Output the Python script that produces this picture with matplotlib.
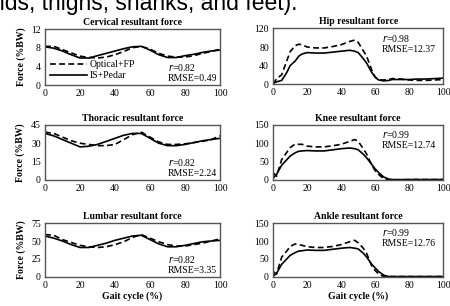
import matplotlib
matplotlib.use("Agg")
import matplotlib.pyplot as plt

plt.rcParams['font.family'] = ['Liberation Serif', 'DejaVu Serif']

# gait cycle (%)
gait = [0, 5, 10, 15, 20, 25, 30, 35, 40, 45, 50, 55, 60, 65, 70, 75, 80, 85, 90, 95, 100]
gait_f = [0, 2, 5, 8, 10, 13, 15, 17, 20, 25, 30, 35, 40, 45, 48, 50, 53, 55, 58, 60, 62, 65, 68, 70, 75, 80, 85, 90, 95, 100]

cerv_is = [8.2, 7.9, 7.3, 6.5, 5.8, 5.8, 6.3, 6.8, 7.3, 7.8, 8.2, 8.3, 7.5, 6.5, 5.9, 5.9, 6.3, 6.6, 7.0, 7.3, 7.5]
cerv_op = [8.3, 8.3, 7.6, 6.9, 6.2, 5.9, 5.8, 6.0, 6.5, 7.2, 8.0, 8.3, 7.7, 6.8, 6.2, 6.0, 6.0, 6.3, 6.8, 7.2, 7.7]
thor_is = [38, 36, 33, 30, 27, 27.5, 29, 31.5, 34, 36.5, 38, 38, 34, 30, 28, 28, 29, 30.5, 32, 33, 34]
thor_op = [39, 38, 35, 32, 30, 29, 28, 28, 29, 33, 37, 39, 35, 31, 29, 29, 29.5, 30.5, 31.5, 33, 36]
lumb_is = [57, 54, 50, 45, 41, 41, 44, 47, 51, 54, 57, 58, 52, 46, 42, 42, 44, 46.5, 49, 50, 51]
lumb_op = [59, 58, 52, 48, 44, 42, 41, 42, 45, 49, 55, 59, 54, 49, 45, 43, 43, 45, 47, 50, 53]

hip_is = [2, 5, 8, 25, 40, 50, 60, 65, 68, 67, 67, 69, 71, 73, 71, 68, 55, 45, 25, 15, 9, 7, 8, 10, 10, 10, 11, 11, 12, 13]
hip_op = [0, 12, 20, 50, 70, 83, 86, 85, 80, 78, 78, 81, 85, 92, 95, 90, 72, 60, 30, 15, 9, 9, 10, 12, 11, 9, 8, 8, 9, 10]
knee_is = [5, 15, 40, 55, 65, 74, 78, 79, 80, 79, 79, 82, 85, 87, 85, 82, 70, 60, 42, 30, 20, 8, 2, 1, 1, 1, 1, 1, 1, 1]
knee_op = [20, 10, 55, 75, 88, 98, 97, 97, 92, 90, 90, 93, 97, 105, 110, 105, 85, 70, 40, 25, 15, 3, 1, 0, 0, 1, 1, 1, 1, 1]
ankl_is = [2, 10, 35, 50, 60, 68, 72, 73, 75, 74, 74, 77, 80, 82, 80, 78, 66, 55, 35, 25, 15, 5, 1, 1, 1, 1, 1, 1, 1, 1]
ankl_op = [15, 8, 55, 72, 85, 92, 90, 88, 84, 82, 82, 85, 90, 98, 102, 95, 80, 65, 30, 18, 8, 1, 1, 1, 1, 1, 1, 1, 1, 1]

fig = plt.figure(figsize=(4.5, 3.06), dpi=100)

# fragment of caption text above the figure (cut off in the original too)
fig.text(0.66, 0.967, "nds, thighs, shanks, and feet).", family=['Liberation Sans', 'DejaVu Sans'],
         fontsize=16.5, va='baseline', ha='right')


def panel(rect, x, is_vals, op_vals, title, ymax, yticks, r, rmse, stat_top, ylab, xlab, legend=False):
    ax = fig.add_axes(rect)
    ax.plot(x, op_vals, color='black', lw=1.2, ls=(0, (3.5, 2)), label='Optical+FP')
    ax.plot(x, is_vals, color='black', lw=1.2, label='IS+Pedar')
    ax.set_xlim(0, 100)
    ax.set_ylim(0, ymax)
    ax.set_xticks([0, 20, 40, 60, 80, 100])
    ax.set_yticks(yticks)
    ax.tick_params(length=0, labelsize=7, pad=3)
    for s in ax.spines.values():
        s.set_color('#555555')
        s.set_linewidth(1.0)
    ax.set_title(title, fontsize=7, fontweight='bold', pad=3)
    if ylab:
        ax.set_ylabel('Force (%BW)', fontsize=7, fontweight='bold', labelpad=4)
    if xlab:
        ax.set_xlabel('Gait cycle (%)', fontsize=7, fontweight='bold', labelpad=1)
    if stat_top:
        ax.text(0.64, 0.92, r'$r$=' + r, transform=ax.transAxes, fontsize=7, va='top')
        ax.text(0.64, 0.7, 'RMSE=' + rmse, transform=ax.transAxes, fontsize=7, va='top')
    else:
        ax.text(0.7, 0.42, r'$r$=' + r, transform=ax.transAxes, fontsize=7, va='top')
        ax.text(0.7, 0.2, 'RMSE=' + rmse, transform=ax.transAxes, fontsize=7, va='top')
    if legend:
        ax.legend(loc='lower left', fontsize=7, frameon=False, handlelength=3.8,
                  borderaxespad=0.1, labelspacing=0.2, handletextpad=0.3)
    return ax


L, LW = 0.1, 0.389
R, RW = 0.607, 0.378
panel([L, 0.722, LW, 0.183], gait, cerv_is, cerv_op, 'Cervical resultant force', 12, [0, 4, 8, 12],
      '0.82', '0.49', False, True, False, legend=True)
panel([R, 0.725, RW, 0.182], gait_f, hip_is, hip_op, 'Hip resultant force', 120, [0, 40, 80, 120],
      '0.98', '12.37', True, False, False)
panel([L, 0.412, LW, 0.18], gait, thor_is, thor_op, 'Thoracic resultant force', 45, [0, 15, 30, 45],
      '0.82', '2.24', False, True, False)
panel([R, 0.412, RW, 0.18], gait_f, knee_is, knee_op, 'Knee resultant force', 150, [0, 50, 100, 150],
      '0.99', '12.74', True, False, False)
panel([L, 0.095, LW, 0.176], gait, lumb_is, lumb_op, 'Lumbar resultant force', 75, [0, 25, 50, 75],
      '0.82', '3.35', False, True, True)
panel([R, 0.095, RW, 0.176], gait_f, ankl_is, ankl_op, 'Ankle resultant force', 150, [0, 50, 100, 150],
      '0.99', '12.76', True, False, True)

fig.savefig('out.png', dpi=100)
